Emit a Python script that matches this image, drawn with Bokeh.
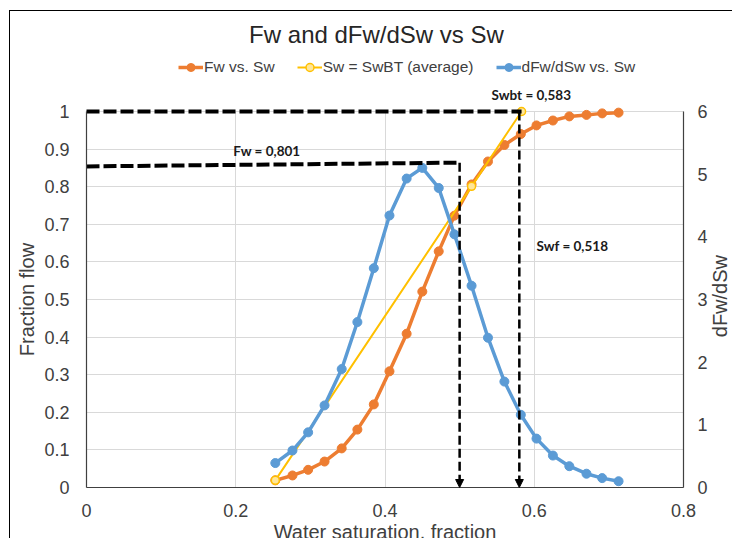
import math
from bokeh.plotting import figure
from bokeh.models import (Range1d, LinearAxis, FixedTicker, Label, Legend,
                          LegendItem, Arrow, NormalHead)
from bokeh.embed import file_html
from bokeh.resources import INLINE

# ---------------- data ----------------
sw = [0.253, 0.276, 0.297, 0.319, 0.342, 0.363, 0.385, 0.406, 0.429, 0.450, 0.472,
      0.493, 0.516, 0.538, 0.560, 0.582, 0.603, 0.625, 0.647, 0.670, 0.691, 0.713]
fw = [0.019, 0.032, 0.047, 0.069, 0.104, 0.154, 0.221, 0.309, 0.409, 0.521, 0.628,
      0.723, 0.806, 0.867, 0.911, 0.940, 0.963, 0.976, 0.987, 0.991, 0.995, 0.997]
dfw_dsw = [0.39, 0.59, 0.88, 1.31, 1.89, 2.64, 3.50, 4.34, 4.93, 5.10, 4.78,
           4.04, 3.22, 2.39, 1.69, 1.16, 0.78, 0.51, 0.34, 0.22, 0.15, 0.10]
bt_sw = [0.253, 0.516, 0.583]
bt_fw = [0.019, 0.801, 1.0]

x_ticks = [0, 0.2, 0.4, 0.6, 0.8]
x_tick_labels = ["0", "0.2", "0.4", "0.6", "0.8"]
y_ticks = [0, 0.1, 0.2, 0.3, 0.4, 0.5, 0.6, 0.7, 0.8, 0.9, 1]
y_tick_labels = ["0", "0.1", "0.2", "0.3", "0.4", "0.5", "0.6", "0.7", "0.8", "0.9", "1"]
y2_ticks = [0, 1, 2, 3, 4, 5, 6]

# guide lines (annotations)
front_line_x = [0, 0.5]
front_line_y = [0.854, 0.864]
bt_line_x = [0, 0.583]
bt_line_y = [1.0, 1.0]
swf_x = 0.5
swbt_x = 0.58

ORANGE = "#ED7D31"
BLUE = "#5B9BD5"
YELLOW = "#FFC000"
TXT = "#404040"
FONT = "Liberation Sans"

# the frame covers the whole chart area (page x 9..732, y 10..538);
# 746.25 px per unit of Sw, 376 px per unit of Fw
X_START = (9 - 86) / 746.25
X_END = (732 - 86) / 746.25
Y_START = -51 / 376
Y_END = 477 / 376

p = figure(width=723, height=528, output_backend="svg", toolbar_location=None,
           title=None,
           x_range=Range1d(X_START, X_END), y_range=Range1d(Y_START, Y_END),
           min_border_left=0, min_border_right=0, min_border_top=0,
           min_border_bottom=0, margin=(10, 0, 0, 9))
p.extra_y_ranges = {"right": Range1d(6 * Y_START, 6 * Y_END)}
p.border_fill_color = None
p.background_fill_color = None
p.outline_line_color = None
p.styles = {"box-shadow": "inset 1px 1px 0 0 #000"}

# axes (all fixed inside the frame)
p.xaxis.fixed_location = 0
p.xaxis.bounds = (0, 0.8)
p.xaxis.ticker = FixedTicker(ticks=x_ticks)
p.xaxis.major_label_overrides = dict(zip(x_ticks, x_tick_labels))
p.xaxis.axis_label = "Water saturation. fraction"
p.yaxis.fixed_location = 0
p.yaxis.ticker = FixedTicker(ticks=y_ticks)
p.yaxis.major_label_overrides = dict(zip(y_ticks, y_tick_labels))
p.yaxis.bounds = (0, 1)
p.yaxis.axis_label = "Fraction flow"

right = LinearAxis(y_range_name="right", ticker=FixedTicker(ticks=y2_ticks),
                   bounds=(0, 6), fixed_location=0.8)
p.add_layout(right, "right")

for ax in [p.xaxis[0], p.yaxis[0], right]:
    ax.axis_line_color = "#404040"
    ax.axis_line_width = 1.2
    ax.major_tick_out = 0
    ax.major_tick_in = 0
    ax.minor_tick_out = 0
    ax.minor_tick_in = 0
    ax.major_label_text_font = FONT
    ax.major_label_text_font_size = "18px"
    ax.major_label_text_color = TXT
    ax.axis_label_text_font = FONT
    ax.axis_label_text_font_size = "20px"
    ax.axis_label_text_font_style = "normal"
    ax.axis_label_text_color = TXT
p.xaxis.major_label_standoff = 16
p.xaxis.axis_label_standoff = 1
p.yaxis.major_label_standoff = 17
p.yaxis.axis_label_standoff = 3
right.major_label_standoff = 14

p.xgrid.ticker = FixedTicker(ticks=x_ticks)
p.ygrid.ticker = FixedTicker(ticks=y_ticks)
p.xgrid.grid_line_color = "#d9d9d9"
p.ygrid.grid_line_color = "#d9d9d9"
p.xgrid.bounds = (0, 0.8)
p.ygrid.bounds = (0, 1)
p.xgrid.cross_bounds = (0, 1)
p.ygrid.cross_bounds = (0, 0.8)

# series
l1 = p.line(sw, fw, line_color=ORANGE, line_width=3.5)
s1 = p.scatter(sw, fw, size=9, fill_color=ORANGE, line_color=ORANGE)
l2 = p.line(bt_sw, bt_fw, line_color=YELLOW, line_width=2)
s2 = p.scatter(bt_sw, bt_fw, size=8, fill_color="#FFE699", line_color=YELLOW, line_width=1.5)
l3 = p.line(sw, dfw_dsw, line_color=BLUE, line_width=3.5, y_range_name="right")
s3 = p.scatter(sw, dfw_dsw, size=9, fill_color=BLUE, line_color=BLUE, y_range_name="right")

# guide dashed lines
p.line(bt_line_x, bt_line_y, line_color="black", line_width=4, line_dash="13 4")
p.line(front_line_x, front_line_y, line_color="black", line_width=4, line_dash="13 4")
p.add_layout(Arrow(x_start=swf_x, y_start=front_line_y[1], x_end=swf_x, y_end=0,
                   line_color="black", line_width=2.5, line_dash="9 4",
                   end=NormalHead(size=8, fill_color="black", line_color="black")))
p.add_layout(Arrow(x_start=swbt_x, y_start=1.0, x_end=swbt_x, y_end=0,
                   line_color="black", line_width=2.5, line_dash="9 4",
                   end=NormalHead(size=8, fill_color="black", line_color="black")))

# text annotations
def lab(x, y, t, size, align="left", bold=False, color="#1a1a1a", font=FONT,
        baseline="middle", angle=0):
    p.add_layout(Label(x=x, y=y, text=t, text_font=font, text_font_size=size,
                       text_align=align, text_baseline=baseline, text_color=color,
                       text_font_style="bold" if bold else "normal", angle=angle))

lab(0.1966, 0.896, "Fw = 0,801", "13.5px", bold=True, font="Lato")
lab(0.596, 1.0426, "Swbt = 0,583", "13.5px", align="center", bold=True, font="Lato")
lab(0.603, 0.642, "Swf = 0,518", "13.5px", bold=True, font="Lato")
lab(0.3886, 1.2048, "Fw and dFw/dSw vs Sw", "24px", align="center", color="#262626")
# secondary axis title, reading bottom to top
lab(0.849, 0.509, "dFw/dSw", "20px", align="center", color=TXT, angle=math.pi / 2)

legend = Legend(items=[LegendItem(label="Fw vs. Sw", renderers=[l1, s1]),
                       LegendItem(label="Sw = SwBT (average)", renderers=[l2, s2]),
                       LegendItem(label="dFw/dSw vs. Sw", renderers=[l3, s3])],
                orientation="horizontal", location=(169, 461),
                glyph_width=25, glyph_height=20, label_height=20,
                label_standoff=1, spacing=22, padding=0, margin=0,
                border_line_color=None, background_fill_alpha=0,
                label_text_font=FONT, label_text_font_size="15.5px",
                label_text_color=TXT)
p.add_layout(legend)

open("out.html", "w").write(file_html(p, INLINE))
